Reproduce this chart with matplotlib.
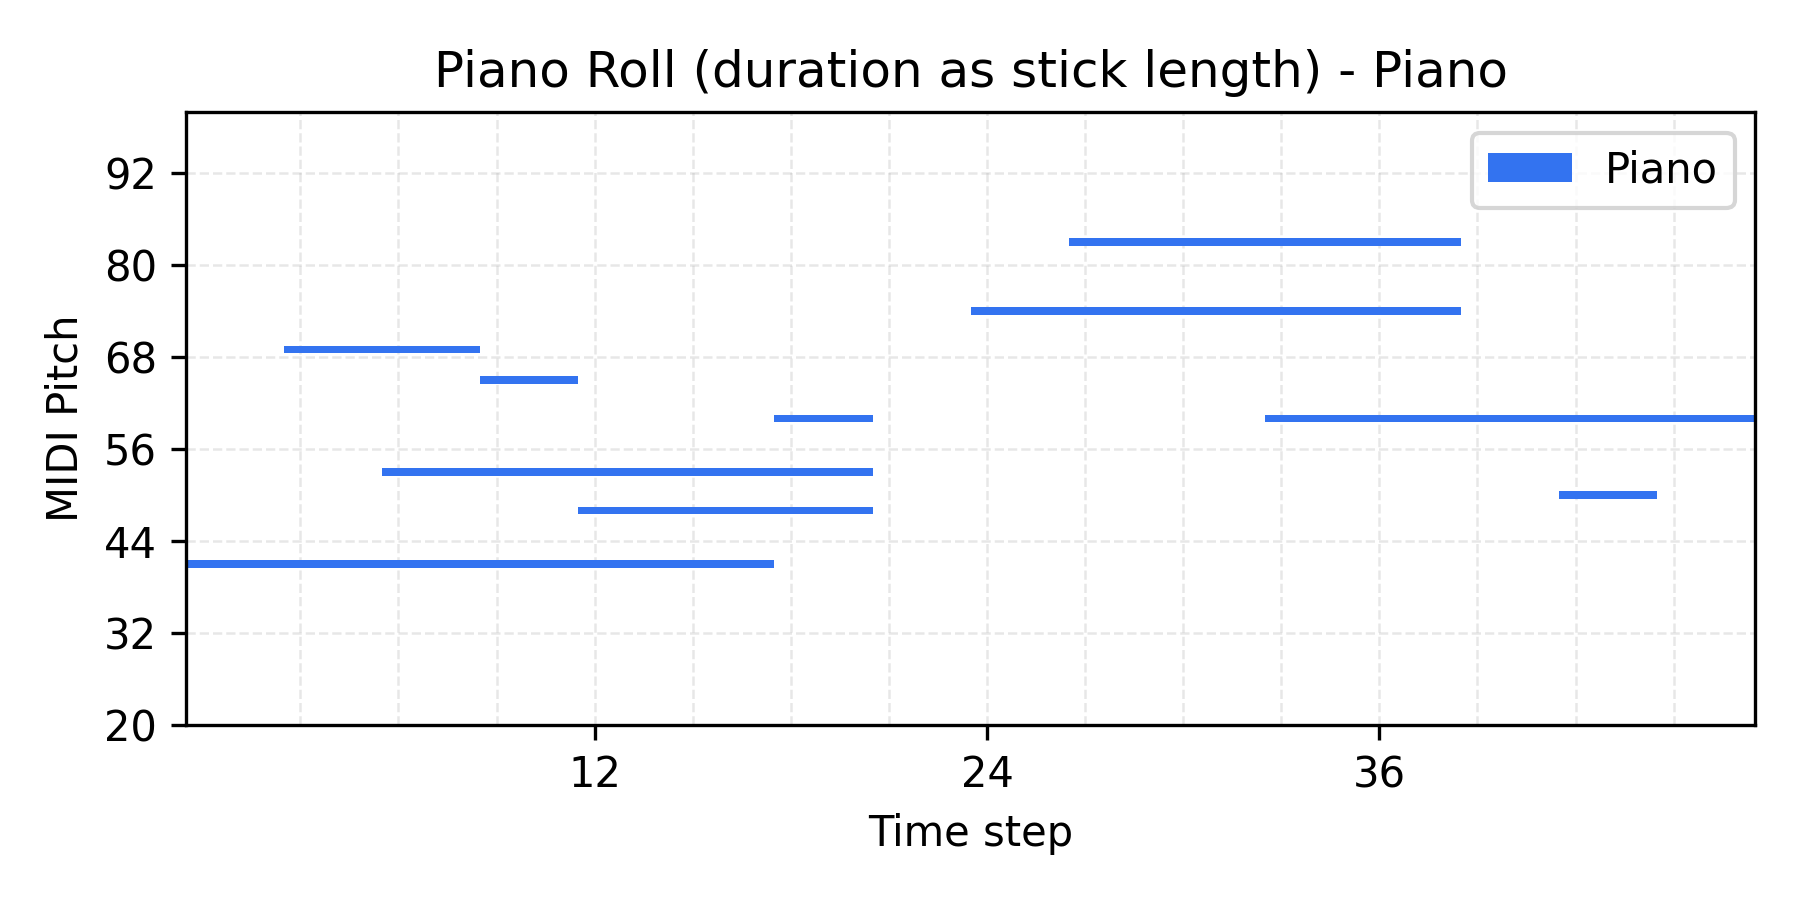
import matplotlib.pyplot as plt

# notes: pitch, start step, duration (steps)
pitches = [41, 69, 65, 60, 53, 48, 83, 74, 60, 50]
starts = [0, 3, 9, 18, 6, 12, 27, 24, 33, 42]
durations = [18, 6, 3, 3, 15, 9, 12, 15, 15, 3]

instrument = 'Piano'
n_steps = 48
x_ticks = [12, 24, 36]
y_ticks = [20, 32, 44, 56, 68, 80, 92]

fig, ax = plt.subplots(figsize=(6, 3), dpi=300)

# center each step on its integer position
lefts = [s - 0.5 for s in starts]
ax.barh(pitches, durations, left=lefts, height=1.0, color='#3373F0', label=instrument)

ax.set_xlim(-0.5, n_steps - 0.5)
ax.set_ylim(20, 100)
ax.set_xticks(x_ticks)
ax.set_xticks(range(3, n_steps, 3), minor=True)
ax.tick_params(axis='x', which='minor', length=0)
ax.set_yticks(y_ticks)

ax.grid(which='both', linestyle='--', alpha=0.3, linewidth=0.6)
ax.set_axisbelow(True)

ax.set_xlabel('Time step')
ax.set_ylabel('MIDI Pitch')
ax.set_title(f'Piano Roll (duration as stick length) - {instrument}')
ax.legend(loc='upper right')

fig.subplots_adjust(left=0.1033, right=0.9752, top=0.8759, bottom=0.1941)
fig.savefig('out.png', dpi=300)
